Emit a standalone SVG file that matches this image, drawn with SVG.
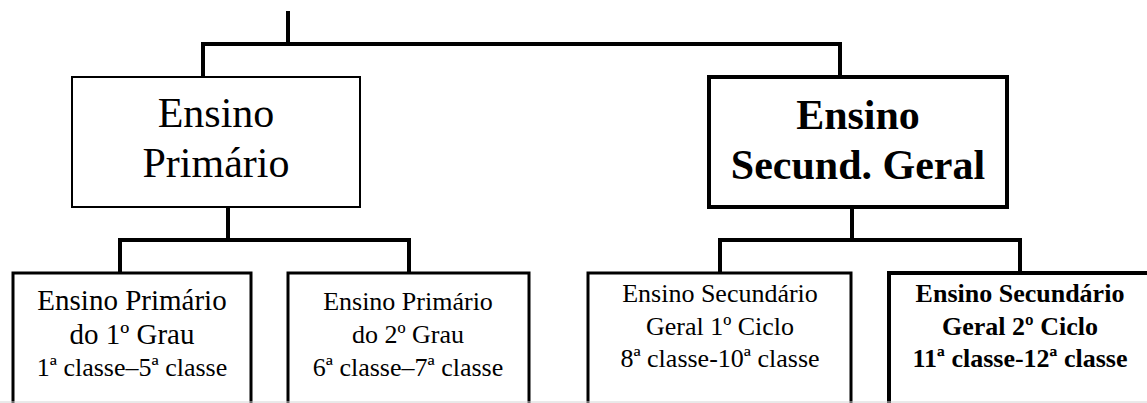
<svg xmlns="http://www.w3.org/2000/svg" width="1147" height="403" viewBox="0 0 1147 403">
  <style>
    .box { fill: #ffffff; stroke: #000000; }
    .thin { stroke-width: 2; }
    .thick { stroke-width: 4; }
    .mid { stroke-width: 3; }
    .wire { fill: none; stroke: #000000; stroke-width: 4; stroke-linecap: square; stroke-linejoin: miter; }
    text { font-family: "Liberation Serif", "Times New Roman", serif; fill: #000000; text-anchor: middle; }
    .big { font-size: 42px; }
    .small { font-size: 26px; }
    .larger { font-size: 29px; }
    .bold { font-weight: bold; }
  </style>

  <rect x="0" y="0" width="1147" height="403" fill="#ffffff"/>

  <!-- connectors -->
  <g id="connectors">
    <path class="wire" d="M288 13 V44"/>
    <path class="wire" d="M203 75 V44 H840 V74"/>
    <path class="wire" d="M228 208 V240"/>
    <path class="wire" d="M120 271 V240 H409 V271"/>
    <path class="wire" d="M852 209 V240"/>
    <path class="wire" d="M720 271 V240 H1020 V271"/>
  </g>

  <!-- level 1 -->
  <g id="ensino-primario">
    <rect class="box thin" x="72" y="77" width="288" height="130"/>
    <text class="big" x="216" y="127">Ensino</text>
    <text class="big" x="216" y="177">Primário</text>
  </g>

  <g id="ensino-secundario-geral">
    <rect class="box thick" x="709" y="77" width="298" height="130"/>
    <text class="big bold" x="858" y="129">Ensino</text>
    <text class="big bold" x="858" y="179">Secund. Geral</text>
  </g>

  <!-- level 2 (boxes run past the lower edge) -->
  <g id="primario-1-grau">
    <rect class="box mid" x="13" y="273" width="238" height="140"/>
    <text class="larger" x="132" y="310">Ensino Primário</text>
    <text class="larger" x="132" y="344">do 1º Grau</text>
    <text class="small" x="132" y="376">1ª classe–5ª classe</text>
  </g>

  <g id="primario-2-grau">
    <rect class="box mid" x="288" y="273" width="241" height="140"/>
    <text class="small" x="408" y="310">Ensino Primário</text>
    <text class="small" x="408" y="343">do 2º Grau</text>
    <text class="small" x="408" y="376">6ª classe–7ª classe</text>
  </g>

  <g id="secundario-1-ciclo">
    <rect class="box mid" x="588" y="273" width="263" height="140"/>
    <text class="small" x="720" y="302">Ensino Secundário</text>
    <text class="small" x="720" y="335">Geral 1º Ciclo</text>
    <text class="small" x="720" y="367">8ª classe-10ª classe</text>
  </g>

  <g id="secundario-2-ciclo">
    <rect class="box thick" x="889" y="273" width="270" height="140"/>
    <text class="small bold" x="1020" y="302">Ensino Secundário</text>
    <text class="small bold" x="1020" y="335">Geral 2º Ciclo</text>
    <text class="small bold" x="1020" y="367">11ª classe-12ª classe</text>
  </g>

  <!-- faint page edge along the bottom -->
  <line x1="0" y1="402" x2="1147" y2="402" stroke="#d4d4d4" stroke-width="1"/>
</svg>
